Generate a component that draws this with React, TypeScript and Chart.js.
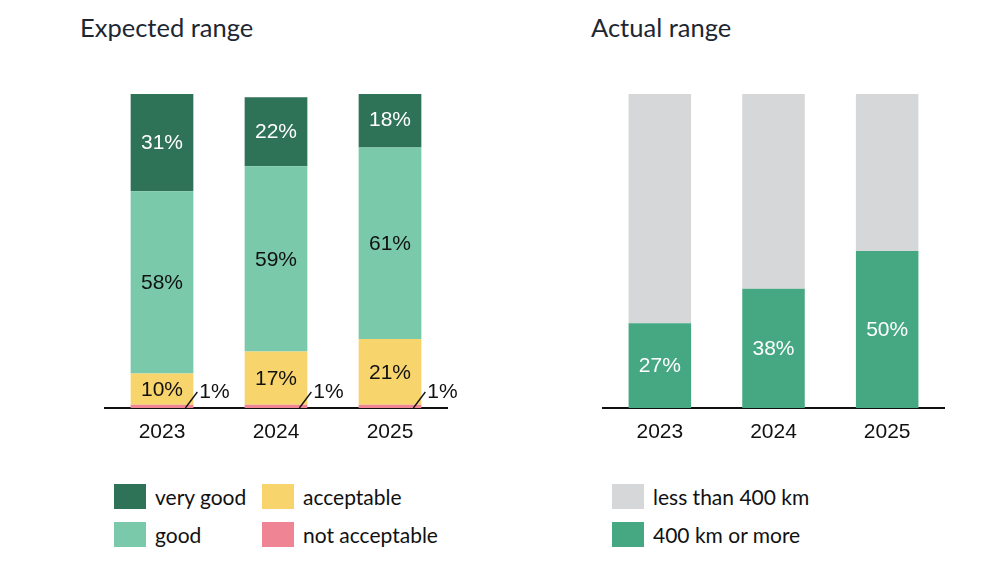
import React, { useEffect, useRef } from "react";
import { Chart, registerables } from "chart.js";

Chart.register(...registerables);

const years = ["2023", "2024", "2025"];

// Expected range (percent)
const veryGood = [31, 22, 18];
const good = [58, 59, 61];
const acceptable = [10, 17, 21];
const notAcceptable = [1, 1, 1];

// Actual range (percent)
const over400 = [27, 38, 50];
const under400 = [73, 62, 50];

const expectedTitle = "Expected range";
const actualTitle = "Actual range";

const C_VERY_GOOD = "#2e7257";
const C_GOOD = "#79c9aa";
const C_ACCEPT = "#f8d46c";
const C_NOT = "#ef8494";
const C_GREY = "#d6d7d8";
const C_GREEN = "#46a882";

const NUM_FONT = '"Liberation Sans", Arial, sans-serif';
const TEXT_FONT = 'Lato, "Noto Sans", sans-serif';

const labelPlugin = {
  id: "segLabels",
  afterDatasetsDraw(chart: any) {
    const ctx = chart.ctx;
    ctx.save();
    chart.data.datasets.forEach((ds: any, di: number) => {
      const meta = chart.getDatasetMeta(di);
      if (!ds.showLabels) return;
      meta.data.forEach((el: any, i: number) => {
        const v = ds.data[i];
        const { x, y, base, width } = el.getProps(["x", "y", "base", "width"], true);
        ctx.font = `21px ${NUM_FONT}`;
        if (v >= 5) {
          ctx.fillStyle = ds.labelColor;
          ctx.textAlign = "center";
          ctx.textBaseline = "middle";
          ctx.fillText(v + "%", x, (y + base) / 2 + 1);
        } else {
          const right = x + width / 2;
          ctx.strokeStyle = "#111";
          ctx.lineWidth = 1.3;
          ctx.beginPath();
          ctx.moveTo(right - 8, base);
          ctx.lineTo(right + 4, base - 16);
          ctx.stroke();
          ctx.fillStyle = "#111";
          ctx.textAlign = "left";
          ctx.textBaseline = "middle";
          ctx.fillText(v + "%", right + 6, base - 16);
        }
      });
    });
    ctx.restore();
  },
};

function makeOptions(padLeft: number, padRight: number) {
  return {
    responsive: false,
    animation: false as const,
    maintainAspectRatio: false,
    layout: { padding: { left: padLeft, right: padRight, top: 34, bottom: 0 } },
    plugins: { legend: { display: false }, tooltip: { enabled: false } },
    scales: {
      x: {
        stacked: true,
        grid: { display: false, drawTicks: false },
        border: { display: true, color: "#111", width: 2 },
        ticks: { color: "#111", font: { family: NUM_FONT, size: 21 }, padding: 12 },
        afterFit: (s: any) => {
          s.height = 52;
        },
      },
      y: { stacked: true, display: false, min: 0, max: 100 },
    },
  };
}

function BarChart({ datasets, padLeft, padRight }: any) {
  const ref = useRef<HTMLCanvasElement | null>(null);
  useEffect(() => {
    if (!ref.current) return;
    const chart = new Chart(ref.current, {
      type: "bar",
      data: {
        labels: years,
        datasets: datasets.map((d: any) => ({
          ...d,
          borderWidth: 0,
          categoryPercentage: 1,
          barPercentage: 0.55,
        })),
      },
      options: makeOptions(padLeft, padRight) as any,
      plugins: [labelPlugin],
    });
    return () => chart.destroy();
  }, []);
  return <canvas ref={ref} width={500} height={400} style={{ width: 500, height: 400 }} />;
}

function Legend({ items, left, colWidth }: any) {
  return (
    <div
      style={{
        position: "absolute",
        left,
        top: 484,
        display: "grid",
        gridAutoFlow: "column",
        gridTemplateRows: "25px 25px",
        gridTemplateColumns: `repeat(2, ${colWidth}px)`,
        rowGap: 13,
      }}
    >
      {items.map((it: any) => (
        <div key={it.label} style={{ display: "flex", alignItems: "center", height: 25 }}>
          <div style={{ width: 32, height: 25, background: it.color, marginRight: 9, flex: "none" }} />
          <span style={{ fontFamily: TEXT_FONT, fontSize: 21, color: "#111", whiteSpace: "nowrap", lineHeight: 1 }}>
            {it.label}
          </span>
        </div>
      ))}
    </div>
  );
}

const titleStyle: React.CSSProperties = {
  position: "absolute",
  top: 15,
  fontFamily: TEXT_FONT,
  fontSize: 25.5,
  lineHeight: 1,
  color: "#1c2733",
  margin: 0,
};

export default function App() {
  const leftSets = [
    { label: "not acceptable", data: notAcceptable, backgroundColor: C_NOT, showLabels: true, labelColor: "#111" },
    { label: "acceptable", data: acceptable, backgroundColor: C_ACCEPT, showLabels: true, labelColor: "#111" },
    { label: "good", data: good, backgroundColor: C_GOOD, showLabels: true, labelColor: "#111" },
    { label: "very good", data: veryGood, backgroundColor: C_VERY_GOOD, showLabels: true, labelColor: "#fff" },
  ];
  const rightSets = [
    { label: "400 km or more", data: over400, backgroundColor: C_GREEN, showLabels: true, labelColor: "#fff" },
    { label: "less than 400 km", data: under400, backgroundColor: C_GREY, showLabels: false, labelColor: "#111" },
  ];
  const leftLegend = [
    { label: "very good", color: C_VERY_GOOD },
    { label: "good", color: C_GOOD },
    { label: "acceptable", color: C_ACCEPT },
    { label: "not acceptable", color: C_NOT },
  ];
  const rightLegend = [
    { label: "less than 400 km", color: C_GREY },
    { label: "400 km or more", color: C_GREEN },
  ];
  return (
    <div style={{ position: "fixed", left: 0, top: 0, width: 1000, height: 563, background: "#fff", overflow: "hidden" }}>
      <div style={{ ...titleStyle, left: 80 }}>{expectedTitle}</div>
      <div style={{ ...titleStyle, left: 591 }}>{actualTitle}</div>
      <div style={{ position: "absolute", left: 0, top: 60 }}>
        <BarChart datasets={leftSets} padLeft={105} padRight={53} />
      </div>
      <div style={{ position: "absolute", left: 500, top: 60 }}>
        <BarChart datasets={rightSets} padLeft={103} padRight={56} />
      </div>
      <Legend items={leftLegend} left={114} colWidth={148} />
      <Legend items={rightLegend} left={612} colWidth={250} />
    </div>
  );
}
